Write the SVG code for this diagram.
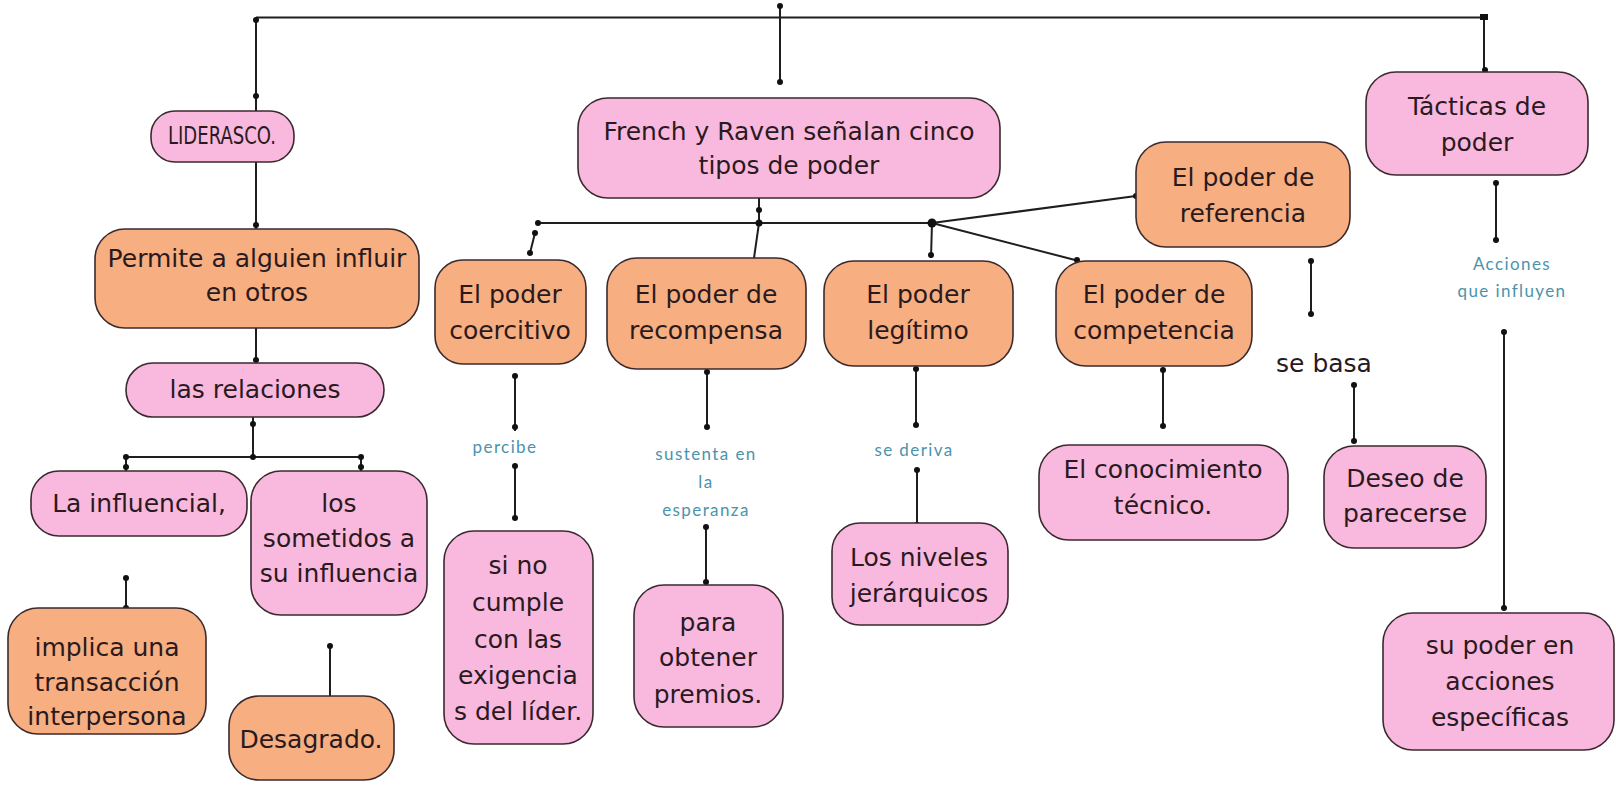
<svg xmlns="http://www.w3.org/2000/svg" width="1616" height="801" viewBox="0 0 1616 801">
<style>
.pk{fill:#f9b9de;stroke:#3a2a2e;stroke-width:1.6}
.or{fill:#f7ae80;stroke:#3a2a2e;stroke-width:1.6}
.t{font-family:"DejaVu Sans",Inter,sans-serif;font-size:25px;fill:#2a1a1e;text-anchor:middle;dominant-baseline:central}
.lb{font-family:Lato,"Open Sans",sans-serif;font-size:17px;fill:#4b93ad;text-anchor:middle;dominant-baseline:central;letter-spacing:1.4px}
.ln{stroke:#1e1e1e;stroke-width:2;fill:none}
.d{fill:#111}
</style>
<g id="connectors">
<path class="ln" d="M256 17.5H1484 M780 6V82 M256 17.5V111 M1484 17.5V72"/>
<circle class="d" cx="256" cy="20" r="3"/><circle class="d" cx="780" cy="6" r="3"/><circle class="d" cx="780" cy="82" r="3"/><rect class="d" x="1480" y="14" width="8" height="6"/><circle class="d" cx="256" cy="96" r="3"/><circle class="d" cx="1485" cy="70" r="3"/>
<path class="ln" d="M256 162V229 M256 290V363"/>
<circle class="d" cx="256" cy="225" r="3"/><circle class="d" cx="256" cy="360" r="3"/>
<path class="ln" d="M253 417V457 M126 457H361 M126 457V471 M361 457V471"/>
<circle class="d" cx="253" cy="424" r="3"/><circle class="d" cx="253" cy="457" r="3"/><circle class="d" cx="126" cy="457" r="3"/><circle class="d" cx="361" cy="457" r="3"/><circle class="d" cx="126" cy="467" r="3"/><circle class="d" cx="361" cy="467" r="3"/>
<path class="ln" d="M126 578V610 M330 646V696"/>
<circle class="d" cx="126" cy="578" r="3"/><circle class="d" cx="126" cy="608" r="3"/><circle class="d" cx="330" cy="646" r="3"/>
<path class="ln" d="M515 376V431 M515 466V520"/>
<circle class="d" cx="515" cy="376" r="3"/><circle class="d" cx="515" cy="427" r="3"/><circle class="d" cx="515" cy="466" r="3"/><circle class="d" cx="515" cy="518" r="3"/>
<path class="ln" d="M759 198V223 M538 223H932 M535 233L530 253 M759 223L754 258 M932 223L931 258 M932 223L1136 196 M932 223L1079 261"/>
<circle class="d" cx="759" cy="210" r="3"/><circle class="d" cx="759" cy="223" r="3.5"/><circle class="d" cx="538" cy="223" r="3"/><circle class="d" cx="535" cy="233" r="3"/><circle class="d" cx="530" cy="253" r="3"/><circle class="d" cx="932" cy="223" r="4.5"/><circle class="d" cx="931" cy="255" r="3"/><circle class="d" cx="1136" cy="196" r="3"/><circle class="d" cx="1077" cy="260" r="3"/>
<path class="ln" d="M707 370V427 M706 526V582 M916 368V426 M917 470V525 M1163 368V426 M1311 261V314 M1354 385V442 M1496 182V240 M1504 332V610"/>
<circle class="d" cx="707" cy="372" r="3"/><circle class="d" cx="707" cy="427" r="3"/><circle class="d" cx="706" cy="527" r="3"/><circle class="d" cx="706" cy="582" r="3"/>
<circle class="d" cx="916" cy="369" r="3"/><circle class="d" cx="916" cy="425" r="3"/><circle class="d" cx="917" cy="470" r="3"/><circle class="d" cx="917" cy="525" r="3"/>
<circle class="d" cx="1163" cy="370" r="3"/><circle class="d" cx="1163" cy="426" r="3"/><circle class="d" cx="1311" cy="261" r="3"/><circle class="d" cx="1311" cy="314" r="3"/><circle class="d" cx="1354" cy="385" r="3"/><circle class="d" cx="1354" cy="441" r="3"/>
<circle class="d" cx="1496" cy="183" r="3"/><circle class="d" cx="1496" cy="240" r="3"/><circle class="d" cx="1504" cy="332" r="3"/><circle class="d" cx="1504" cy="608" r="3"/>
</g>
<g id="n-liderasco"><rect class="pk" x="151" y="111" width="143" height="51" rx="24"/><text class="t" x="222" y="135" font-size="23" textLength="108" lengthAdjust="spacingAndGlyphs">LIDERASCO.</text></g>
<g id="n-french"><rect class="pk" x="578" y="98" width="422" height="100" rx="30"/><text class="t" x="789" y="131">French y Raven señalan cinco</text><text class="t" x="789" y="165">tipos de poder</text></g>
<g id="n-tacticas"><rect class="pk" x="1366" y="72" width="222" height="103" rx="30"/><text class="t" x="1477" y="106">Tácticas de</text><text class="t" x="1477" y="142">poder</text></g>
<g id="n-permite"><rect class="or" x="95" y="229" width="324" height="99" rx="30"/><text class="t" x="257" y="258">Permite a alguien influir</text><text class="t" x="257" y="292">en otros</text></g>
<g id="n-coercitivo"><rect class="or" x="435" y="260" width="151" height="104" rx="28"/><text class="t" x="510" y="294">El poder</text><text class="t" x="510" y="330">coercitivo</text></g>
<g id="n-recompensa"><rect class="or" x="607" y="258" width="199" height="111" rx="30"/><text class="t" x="706" y="294">El poder de</text><text class="t" x="706" y="330">recompensa</text></g>
<g id="n-legitimo"><rect class="or" x="824" y="261" width="189" height="105" rx="30"/><text class="t" x="918" y="294">El poder</text><text class="t" x="918" y="330">legítimo</text></g>
<g id="n-competencia"><rect class="or" x="1056" y="261" width="196" height="105" rx="30"/><text class="t" x="1154" y="294">El poder de</text><text class="t" x="1154" y="330">competencia</text></g>
<g id="n-referencia"><rect class="or" x="1136" y="142" width="214" height="105" rx="30"/><text class="t" x="1243" y="177">El poder de</text><text class="t" x="1243" y="213">referencia</text></g>
<g id="n-relaciones"><rect class="pk" x="126" y="363" width="258" height="54" rx="27"/><text class="t" x="255" y="389">las relaciones</text></g>
<g id="n-influencial"><rect class="pk" x="31" y="471" width="216" height="65" rx="28"/><text class="t" x="139" y="503">La influencial,</text></g>
<g id="n-sometidos"><rect class="pk" x="251" y="471" width="176" height="144" rx="30"/><text class="t" x="339" y="503">los</text><text class="t" x="339" y="538">sometidos a</text><text class="t" x="339" y="573">su influencia</text></g>
<g id="n-implica"><rect class="or" x="8" y="608" width="198" height="126" rx="30"/><text class="t" x="107" y="647">implica una</text><text class="t" x="107" y="682">transacción</text><text class="t" x="107" y="716">interpersona</text></g>
<g id="n-desagrado"><rect class="or" x="229" y="696" width="165" height="84" rx="30"/><text class="t" x="311" y="739">Desagrado.</text></g>
<g id="n-sino"><rect class="pk" x="444" y="531" width="149" height="213" rx="30"/><text class="t" x="518" y="565">si no</text><text class="t" x="518" y="602">cumple</text><text class="t" x="518" y="639">con las</text><text class="t" x="518" y="675">exigencia</text><text class="t" x="518" y="711">s del líder.</text></g>
<g id="n-para"><rect class="pk" x="634" y="585" width="149" height="142" rx="30"/><text class="t" x="708" y="622">para</text><text class="t" x="708" y="657">obtener</text><text class="t" x="708" y="694">premios.</text></g>
<g id="n-niveles"><rect class="pk" x="832" y="523" width="176" height="102" rx="28"/><text class="t" x="919" y="557">Los niveles</text><text class="t" x="919" y="593">jerárquicos</text></g>
<g id="n-conocimiento"><rect class="pk" x="1039" y="445" width="249" height="95" rx="30"/><text class="t" x="1163" y="469">El conocimiento</text><text class="t" x="1163" y="505">técnico.</text></g>
<g id="n-deseo"><rect class="pk" x="1324" y="446" width="162" height="102" rx="30"/><text class="t" x="1405" y="478">Deseo de</text><text class="t" x="1405" y="513">parecerse</text></g>
<g id="n-supoder"><rect class="pk" x="1383" y="613" width="231" height="137" rx="30"/><text class="t" x="1500" y="645">su poder en</text><text class="t" x="1500" y="681">acciones</text><text class="t" x="1500" y="717">específicas</text></g>
<g id="labels">
<text class="lb" x="505" y="446">percibe</text>
<text class="lb" x="706" y="453">sustenta en</text><text class="lb" x="706" y="481">la</text><text class="lb" x="706" y="509">esperanza</text>
<text class="lb" x="914" y="449">se deriva</text>
<text class="t" x="1324" y="363">se basa</text>
<text class="lb" x="1512" y="263">Acciones</text><text class="lb" x="1512" y="290">que influyen</text>
</g>
</svg>
